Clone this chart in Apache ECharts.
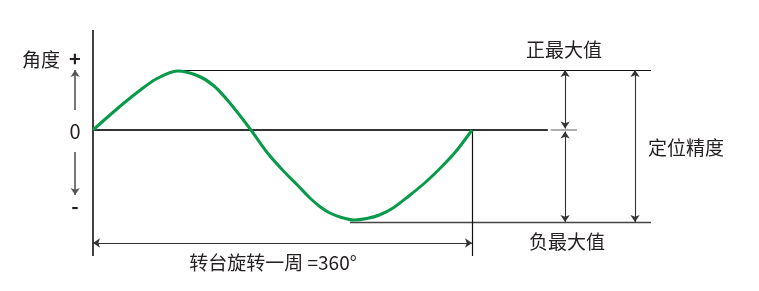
<!DOCTYPE html>
<html><head><meta charset="utf-8">
<script src="https://cdn.jsdelivr.net/npm/echarts@6/dist/echarts.min.js"></script>
<style>html,body{margin:0;padding:0;background:#fff}#c{width:759px;height:291px}</style>
</head><body><div id="c"></div>
<script>
// rotation angle (degrees) sampled along the error curve
const angleDeg = [0, 15, 30, 45, 60, 80, 100, 115, 130, 150, 165, 180, 195, 206, 216, 225, 236, 248, 260, 272, 285, 300, 315, 330, 345, 360];
// positioning error (relative units)
const curveVal = [0, 14, 27.5, 40, 51, 59, 54, 44, 27, 0, -22, -40, -56, -68, -77, -83, -87.5, -90, -88.5, -85, -78, -66, -53, -38, -21, 0];
const posMax = 60, negMax = -92;
const posMaxDeg = 79, negMaxDeg = 244;
const labels = {
  axis: '角度', plus: '+', zero: '0', minus: '-',
  posMax: '正最大值', negMax: '负最大值', precision: '定位精度', turn: '转台旋转一周 =360°'
};

const chart = echarts.init(document.getElementById('c'));
const font = '"Noto Sans CJK SC", "Noto Sans", sans-serif';
const txtColor = '#231f20';
const ml = (a, b, style, sym) => [
  {coord: a, symbol: sym ? sym[0] : 'none', lineStyle: style},
  {coord: b, symbol: sym ? sym[1] : 'none'}
];
const thin = {color: '#111', width: 1.2, type: 'solid'};
const arrowLine = {color: '#333', width: 1.1, type: 'solid'};
const arr = ['arrow', 'arrow'];
const t = (text, x, y, align, size, weight) => ({
  type: 'text', x, y, silent: true,
  style: {text, fill: txtColor, font: (weight || 'normal') + ' ' + (size || 19) + 'px ' + font, textAlign: align || 'center', textVerticalAlign: 'middle'}
});

chart.setOption({
  animation: false,
  grid: {left: 8.8, right: 108, top: 30, bottom: 31},
  xAxis: {type: 'value', min: -80, max: 530, show: false},
  yAxis: {type: 'value', min: -130, max: 100, show: false},
  series: [{
    type: 'line',
    data: angleDeg.map((d, i) => [d, curveVal[i]]),
    smooth: 0.3,
    showSymbol: false,
    z: 5,
    lineStyle: {color: '#079a48', width: 3},
    markLine: {
      silent: true, symbolSize: 7, label: {show: false}, z: 2,
      data: [
        ml([0, 100], [0, -126], {color: '#111', width: 1.6, type: 'solid'}),
        ml([0, 0], [432, 0], {color: '#333', width: 2.2, type: 'solid'}),
        ml([434.8, 0], [459.6, 0], {color: '#999', width: 1.6, type: 'solid'}),
        ml([posMaxDeg, posMax], [530, posMax], thin),
        ml([negMaxDeg, negMax], [530, negMax], {color: '#444', width: 1.3, type: 'solid'}),
        ml([360, 0], [360, -126], thin),
        ml([0, -113], [360, -113], arrowLine, arr),
        ml([448.4, posMax], [448.4, 1.5], arrowLine, arr),
        ml([448.4, -1.5], [448.4, negMax], arrowLine, arr),
        ml([514.8, posMax], [514.8, negMax], arrowLine, arr),
        ml([-17, 20], [-17, 60], {color: '#555', width: 1.6, type: 'solid'}, ['none', 'arrow']),
        ml([-17, -22], [-17, -65], {color: '#555', width: 1.6, type: 'solid'}, ['none', 'arrow'])
      ]
    }
  }],
  graphic: [
    t(labels.axis, 22, 60, 'left'),
    t(labels.plus, 75, 58, 'center', 20, 'bold'),
    t(labels.zero, 75, 131, 'center', 20),
    t(labels.minus, 75, 206, 'center', 20, 'bold'),
    t(labels.posMax, 564, 50),
    t(labels.negMax, 567, 242),
    t(labels.precision, 648, 148, 'left'),
    t(labels.turn, 273, 263)
  ]
});
</script></body></html>
